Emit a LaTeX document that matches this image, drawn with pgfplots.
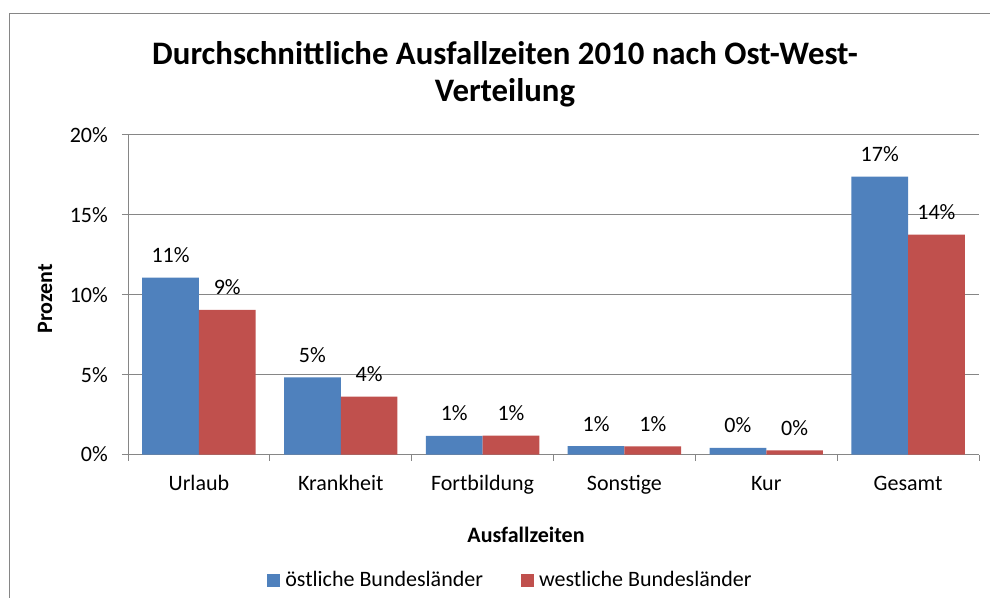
\documentclass[border=0pt]{standalone}
\usepackage{fontspec}
\setmainfont{Carlito}
\usepackage{pgfplots}
\pgfplotsset{compat=1.18}
\definecolor{ostblue}{HTML}{4F81BD}
\definecolor{westred}{HTML}{C0504D}
\definecolor{framegray}{HTML}{868686}
\newcommand{\txt}{\fontsize{22bp}{26bp}\selectfont}

\begin{document}
\begin{tikzpicture}
\path[use as bounding box] (0,0) rectangle (990bp,598bp);
\draw[framegray, line width=1.5bp] (9.5bp,-2bp) -- (9.5bp,584.5bp) -- (992bp,584.5bp);
\node[anchor=base, align=center, font=\bfseries\fontsize{32.8bp}{37bp}\selectfont]
  at (505bp,496bp) {Durchschnittliche Ausfallzeiten 2010 nach Ost-West-\\Verteilung};
\begin{axis}[
  at={(128bp,143.5bp)}, anchor=south west,
  scale only axis, width=851bp, height=319.5bp,
  /pgf/number format/assume math mode=true,
  font=\txt,
  ybar=0pt, bar width=0.4,
  xmin=-0.5, xmax=5.5, ymin=0, ymax=20,
  enlarge x limits=false,
  axis x line*=bottom, axis y line*=left,
  axis line style={draw=framegray, line width=1bp, -},
  tick align=outside, major tick length=6bp,
  tick style={draw=framegray, line width=1bp},
  xtick={-0.5,0.5,...,5.5}, xticklabel={\phantom{0}},
  extra x ticks={0,...,5},
  extra x tick labels={Urlaub,Krankheit,Fortbildung,Sonstige,Kur,Gesamt},
  extra x tick style={major tick length=0pt,
    xticklabel style={anchor=base, yshift=-35.5bp, inner sep=0pt}},
  ytick={0,5,10,15,20}, yticklabels={0\%,5\%,10\%,15\%,20\%},
  yticklabel style={anchor=east, inner sep=0pt, xshift=-14bp},
  ymajorgrids, grid style={draw=framegray, line width=1bp},
  xlabel={Ausfallzeiten},
  xlabel style={at={(axis description cs:0.4677,-0.2504)}, anchor=center, font=\bfseries\txt},
  ylabel={Prozent},
  ylabel style={at={(axis description cs:-0.0975,0.487)}, anchor=center, font=\bfseries\txt},
  nodes near coords={\pgfmathprintnumber[fixed,precision=0]{\pgfplotspointmeta}\%},
  every node near coord/.append style={font=\txt, anchor=base, yshift=15bp, inner sep=0pt, text=black},
  legend style={at={(axis description cs:0.4483,-0.3928)}, anchor=center,
    draw=none, fill=none, font=\txt, legend columns=2, inner sep=0pt,
    nodes={inner sep=0pt},
    /tikz/every odd column/.append style={column sep=5bp},
    /tikz/every even column/.append style={column sep=38bp}},
  legend image code/.code={\fill[#1] (0bp,-6.5bp) rectangle (13bp,6.5bp);},
]
\addplot[fill=ostblue, draw=none] coordinates {
  (0,11.07) (1,4.83) (2,1.16) (3,0.53) (4,0.41) (5,17.39)};
\addplot[fill=westred, draw=none] coordinates {
  (0,9.05) (1,3.62) (2,1.18) (3,0.51) (4,0.26) (5,13.76)};
\legend{östliche Bundesländer, westliche Bundesländer}
\end{axis}
\end{tikzpicture}
\end{document}
